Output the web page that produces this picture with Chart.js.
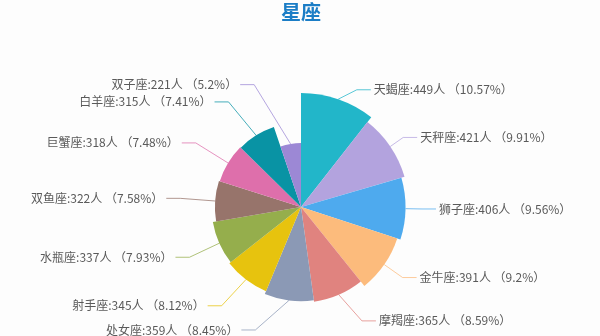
<!DOCTYPE html>
<html>
<head>
<meta charset="utf-8">
<script src="https://cdn.jsdelivr.net/npm/chart.js@4/dist/chart.umd.min.js"></script>
<style>
    html, body { margin: 0; padding: 0; background: #fdfdfd; }
    #wrap { width: 600px; height: 336px; }
</style>
</head>
<body>
<div id="wrap"><canvas id="rose-chart" width="600" height="336"></canvas></div>
<script>
// star signs, clockwise from 12 o'clock
const signs = ['天蝎座', '天秤座', '狮子座', '金牛座', '摩羯座', '处女座', '射手座', '水瓶座', '双鱼座', '巨蟹座', '白羊座', '双子座'];
const people = [449, 421, 406, 391, 365, 359, 345, 337, 322, 318, 315, 221];
const sliceColors = ['#22b6c9', '#b3a3de', '#4eaaee', '#fcbb7c', '#e0837f', '#8b99b5', '#e7c30e', '#95ae4c', '#97746b', '#de6fab', '#0993a4', '#9c88d5'];

const total = people.reduce((a, b) => a + b, 0);
const pct = v => parseFloat((v / total * 100).toFixed(2));

document.addEventListener('DOMContentLoaded', () => {
    // draws the leader lines and the "name:count人 （pct%）" labels
    const roseLabels = {
        id: 'roseLabels',
        afterDatasetsDraw(chart) {
            const ctx = chart.ctx;
            const scale = chart.scales.r;
            const meta = chart.getDatasetMeta(0);
            const r1 = scale.drawingArea + 10;
            const r2 = scale.drawingArea + 24;
            ctx.save();
            ctx.font = '12px "Noto Sans CJK SC", "Noto Sans", sans-serif';
            ctx.textBaseline = 'middle';
            meta.data.forEach((arc, i) => {
                const p = arc.getProps(['x', 'y', 'startAngle', 'endAngle', 'outerRadius'], true);
                const mid = (p.startAngle + p.endAngle) / 2;
                const right = Math.cos(mid) >= 0;
                const sx = p.x + p.outerRadius * Math.cos(mid);
                const sy = p.y + p.outerRadius * Math.sin(mid);
                const ly = p.y + r1 * Math.sin(mid);
                const dy = Math.abs(ly - p.y);
                const dx = Math.sqrt(Math.max(r2 * r2 - dy * dy, 0));
                const tx = right ? p.x + dx : p.x - dx;
                const dir = right ? 1 : -1;

                ctx.strokeStyle = sliceColors[i];
                ctx.globalAlpha = 0.75;
                ctx.lineWidth = 1;
                ctx.beginPath();
                ctx.moveTo(sx, sy);
                ctx.lineTo(tx - dir * 17, ly);
                ctx.lineTo(tx - dir * 3, ly);
                ctx.stroke();

                ctx.globalAlpha = 1;
                ctx.fillStyle = '#5a5a5a';
                ctx.textAlign = right ? 'left' : 'right';
                ctx.fillText(signs[i] + ':' + people[i] + '人 （' + pct(people[i]) + '%）', tx, ly);
            });
            ctx.restore();
        }
    };

    new Chart(document.getElementById('rose-chart').getContext('2d'), {
        type: 'polarArea',
        data: {
            labels: signs,
            datasets: [{
                label: '星座',
                data: people,
                backgroundColor: sliceColors,
                borderWidth: 0,
                // slice angle follows the share, radius follows the value
                angle: c => c.dataset.data[c.dataIndex] / total * 360
            }]
        },
        options: {
            responsive: false,
            animation: false,
            layout: {
                padding: { top: 0, bottom: 15, left: 2, right: 0 }
            },
            scales: {
                r: {
                    min: -70,
                    max: 449,
                    ticks: { display: false },
                    grid: { display: false },
                    angleLines: { display: false },
                    pointLabels: { display: false }
                }
            },
            plugins: {
                legend: { display: false },
                tooltip: { enabled: false },
                title: {
                    display: true,
                    text: '星座',
                    color: '#1b7dc6',
                    font: { size: 20, weight: 'bold', family: '"Noto Sans CJK SC", sans-serif' },
                    padding: { top: 0, bottom: 69 }
                }
            }
        },
        plugins: [roseLabels]
    });
});
</script>
</body>
</html>
